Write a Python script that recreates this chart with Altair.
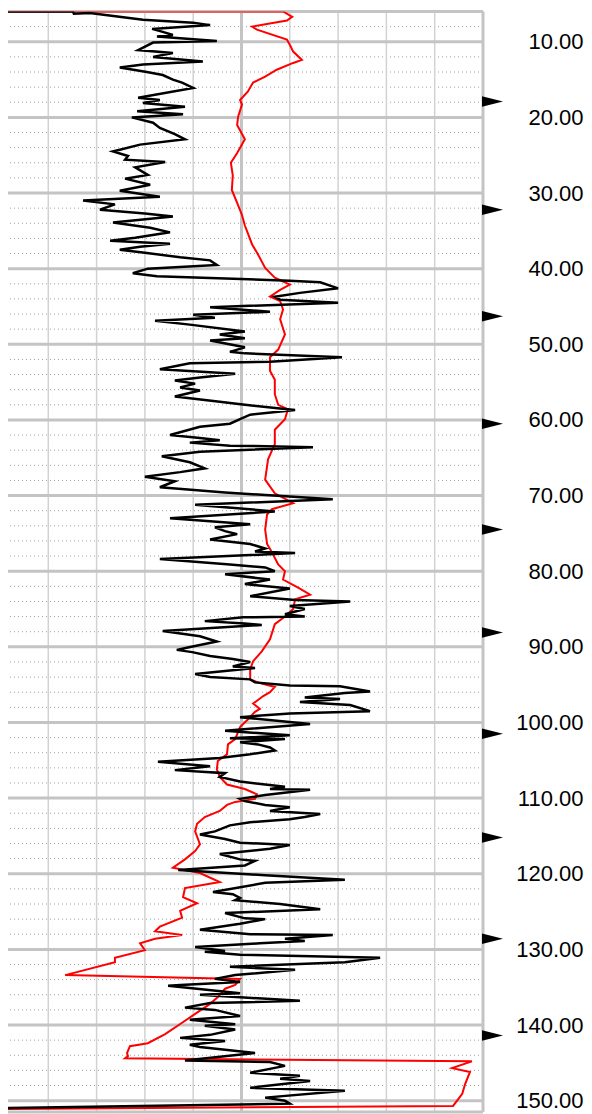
import altair as alt
import pandas as pd

# ---- data ----
black_depth = [6.0, 6.0, 6.3, 6.2, 7.1, 7.5, 7.8, 8.3, 8.7, 9.1,
 9.3, 9.9, 10.1, 11.1, 11.5, 12.0, 12.6, 13.0, 13.4, 14.0,
 14.4, 15.0, 15.4, 16.1, 17.4, 17.7, 18.1, 18.6, 19.2, 19.6,
 20.0, 20.7, 21.4, 22.2, 22.9, 23.6, 24.5, 25.1, 25.6, 25.9,
 26.6, 27.6, 28.1, 28.9, 29.7, 30.5, 31.0, 31.5, 32.2, 32.7,
 33.1, 33.9, 34.6, 35.2, 35.9, 36.3, 36.7, 37.1, 37.5, 37.9,
 38.5, 38.9, 39.5, 40.0, 40.6, 41.0, 41.6, 41.8, 42.6, 43.2,
 43.7, 44.1, 44.5, 45.1, 45.7, 46.1, 46.5, 46.9, 47.4, 48.3,
 48.7, 49.2, 49.5, 50.4, 51.0, 51.2, 51.7, 52.3, 52.5, 53.3,
 53.9, 54.4, 54.8, 55.2, 55.7, 56.1, 56.9, 57.6, 58.0, 58.5,
 58.7, 59.3, 59.9, 60.5, 60.9, 62.0, 62.4, 62.7, 63.0, 63.4,
 63.6, 64.2, 64.8, 65.6, 66.4, 66.9, 67.5, 68.1, 68.9, 69.6,
 70.5, 71.2, 72.1, 73.0, 73.8, 74.2, 74.7, 75.1, 75.8, 76.4,
 77.0, 77.4, 77.6, 78.4, 79.1, 79.5, 80.0, 80.4, 81.1, 81.7,
 82.3, 83.3, 83.8, 84.0, 84.6, 85.0, 85.7, 86.0, 86.1, 86.6,
 86.9, 87.1, 87.9, 88.6, 89.3, 90.1, 90.4, 90.7, 91.2, 91.6,
 92.0, 92.6, 92.8, 93.6, 94.0, 94.3, 94.7, 95.1, 95.2, 95.9,
 96.1, 96.7, 96.9, 97.3, 97.7, 98.5, 98.8, 99.3, 100.2, 101.1,
 101.7, 102.1, 102.2, 102.6, 102.9, 103.3, 103.7, 104.2, 104.7, 105.2,
 105.8, 106.3, 106.7, 107.2, 107.8, 108.2, 108.5, 108.8, 108.9, 109.6,
 110.1, 110.4, 110.9, 111.2, 111.7, 112.1, 112.5, 112.8, 113.2, 113.6,
 114.4, 114.8, 115.4, 115.9, 116.2, 116.7, 117.4, 118.1, 118.3, 118.9,
 119.5, 120.2, 120.8, 121.2, 122.4, 122.7, 123.2, 123.5, 124.0, 124.7,
 125.2, 125.9, 126.0, 126.6, 127.4, 128.0, 128.1, 128.6, 128.9, 129.2,
 129.7, 130.2, 130.3, 130.7, 131.1, 131.7, 132.3, 132.7, 133.4, 133.9,
 134.3, 134.7, 134.8, 135.8, 136.0, 136.8, 137.1, 137.7, 138.0, 138.8,
 139.3, 139.9, 140.1, 140.6, 141.3, 141.7, 142.1, 142.6, 142.9, 143.7,
 144.7, 144.9, 145.4, 146.3, 146.7, 147.1, 147.4, 148.3, 148.7, 149.6,
 150.0, 150.4, 151.0]

black_value = [0, 15.1, 15.3, 18.6, 29.6, 40.0, 43.5, 31.5, 33.7, 35.8,
 32.5, 44.9, 31.7, 28.6, 35.8, 31.7, 42.0, 29.6, 24.8, 30.4,
 33.7, 35.8, 37.7, 40.0, 28.6, 33.1, 29.6, 38.3, 28.4, 37.9,
 27.3, 31.7, 33.1, 36.2, 38.3, 29.0, 23.4, 26.5, 25.9, 34.2,
 28.0, 30.6, 25.9, 31.1, 24.8, 33.1, 17.2, 23.8, 20.7, 30.0,
 35.8, 23.4, 31.1, 35.2, 28.0, 22.8, 35.2, 29.0, 24.8, 30.0,
 37.3, 43.5, 44.9, 30.6, 27.5, 32.5, 60.0, 66.3, 70.0, 62.1,
 56.9, 58.0, 70.0, 43.5, 55.9, 40.0, 44.5, 32.1, 39.3, 50.7,
 45.5, 50.7, 43.5, 50.7, 47.6, 50.7, 70.8, 55.9, 39.3, 33.1,
 48.7, 41.4, 36.2, 40.4, 37.3, 41.4, 36.2, 45.5, 50.7, 58.0,
 61.1, 51.8, 49.7, 47.6, 41.4, 35.2, 41.4, 45.5, 39.3, 47.6,
 64.8, 41.4, 33.5, 39.3, 42.4, 37.3, 30.0, 36.2, 33.1, 46.6,
 68.9, 40.4, 56.9, 35.2, 51.8, 44.5, 46.6, 49.1, 43.5, 51.8,
 54.9, 52.8, 61.1, 33.1, 47.6, 54.9, 56.9, 46.6, 55.9, 50.7,
 60.0, 51.8, 61.1, 72.5, 60.0, 63.1, 59.0, 63.1, 50.3, 42.4,
 50.7, 54.2, 33.7, 41.4, 44.9, 38.9, 36.6, 39.8, 43.5, 48.2,
 51.8, 48.2, 52.8, 40.4, 43.5, 51.8, 52.8, 60.0, 70.4, 76.6,
 71.4, 63.1, 70.4, 62.1, 72.5, 76.6, 60.0, 49.7, 64.2, 46.6,
 60.0, 47.6, 59.0, 49.7, 53.4, 55.9, 56.9, 51.8, 45.5, 32.7,
 43.5, 36.2, 46.6, 45.5, 49.7, 54.9, 59.0, 55.9, 64.2, 54.9,
 49.7, 50.7, 54.9, 60.0, 55.9, 66.3, 63.1, 60.0, 51.8, 47.6,
 44.5, 41.4, 46.6, 49.7, 60.0, 55.9, 45.5, 49.7, 52.8, 50.7,
 36.9, 54.9, 71.4, 54.9, 44.1, 48.2, 49.7, 48.7, 58.0, 66.3,
 46.6, 50.7, 54.9, 49.7, 41.4, 51.8, 68.9, 59.0, 63.1, 53.8,
 40.4, 46.6, 42.4, 49.7, 78.7, 71.4, 47.6, 61.1, 48.7, 44.5,
 49.7, 37.3, 34.8, 49.7, 41.4, 62.1, 43.5, 38.3, 44.5, 49.7,
 39.3, 48.7, 42.4, 48.7, 43.5, 37.3, 46.6, 39.3, 41.4, 52.8,
 38.3, 55.9, 59.0, 51.8, 62.1, 58.0, 64.2, 51.8, 71.4, 54.9,
 59.0, 60.0, 0]

red_depth = [6.0, 6.0, 6.7, 7.2, 8.0, 8.4, 9.7, 10.4, 11.3, 12.4,
 12.8, 13.7, 14.6, 15.4, 16.6, 17.7, 18.3, 19.9, 21.0, 22.9,
 24.7, 26.0, 27.7, 29.6, 31.3, 32.9, 34.3, 36.8, 38.1, 39.9,
 41.2, 42.1, 42.8, 43.7, 44.3, 45.4, 46.7, 48.7, 50.7, 51.7,
 53.5, 54.7, 56.6, 58.0, 58.6, 59.9, 61.3, 63.2, 65.2, 67.9,
 69.7, 71.0, 71.8, 72.5, 74.5, 76.4, 77.5, 79.1, 80.0, 81.1,
 82.3, 83.1, 83.7, 85.0, 86.0, 87.0, 89.0, 90.6, 91.9, 93.0,
 94.3, 94.8, 95.3, 96.0, 96.5, 97.5, 98.2, 98.6, 99.6, 100.6,
 102.2, 102.9, 104.2, 105.1, 106.2, 107.2, 108.2, 108.8, 109.5, 110.1,
 110.5, 110.9, 111.7, 112.5, 113.4, 114.4, 116.1, 117.0, 118.1, 119.2,
 119.9, 121.1, 121.9, 123.1, 123.9, 124.9, 125.8, 127.0, 127.6, 128.1,
 128.6, 129.2, 130.1, 131.1, 131.7, 133.4, 133.9, 134.7, 135.2, 136.3,
 137.2, 138.1, 139.7, 141.2, 142.4, 142.8, 143.7, 144.1, 144.4, 144.8,
 145.7, 146.2, 147.8, 149.1, 150.7, 151.1]

red_value = [0, 58.6, 60.5, 59.4, 52.2, 53.2, 59.4, 60.0, 60.7, 62.5,
 60.7, 57.3, 54.9, 52.4, 51.3, 49.7, 50.1, 49.3, 49.1, 50.7,
 49.1, 47.8, 48.2, 48.0, 49.1, 50.1, 50.7, 52.2, 53.4, 54.9,
 56.9, 60.0, 58.0, 55.9, 58.0, 58.6, 58.0, 59.0, 57.6, 55.9,
 55.9, 56.9, 56.9, 57.6, 59.6, 59.0, 56.9, 56.9, 55.5, 54.9,
 56.9, 60.7, 56.3, 55.3, 54.9, 55.3, 56.3, 57.6, 59.0, 58.6,
 62.1, 64.2, 61.1, 60.7, 59.0, 56.9, 55.9, 54.2, 52.4, 51.8,
 51.8, 53.8, 56.9, 55.9, 54.5, 52.4, 53.8, 52.8, 51.3, 49.7,
 48.7, 47.2, 47.0, 45.1, 44.9, 45.5, 47.0, 50.7, 53.2, 52.8,
 48.7, 47.0, 45.5, 42.4, 40.8, 40.4, 41.4, 40.4, 38.3, 35.8,
 41.4, 45.5, 38.3, 37.9, 40.8, 37.3, 37.7, 33.1, 32.1, 37.7,
 32.1, 29.0, 30.0, 23.8, 23.8, 13.5, 49.7, 48.7, 46.6, 45.1,
 43.5, 41.4, 37.7, 34.2, 30.6, 26.9, 26.3, 26.5, 25.9, 97.7,
 93.6, 97.3, 96.3, 95.7, 93.8, 0]

arrow_depths = [17.9, 32.2, 46.3, 60.5, 74.5, 88.1, 101.5, 115.2, 128.6, 141.4]

label_depths = [10, 20, 30, 40, 50, 60, 70, 80, 90, 100, 110, 120, 130, 140, 150]
minor_depths = [8, 12, 14, 16, 18, 22, 24, 26, 28, 32, 34, 36, 38, 42, 44, 46, 48,
                52, 54, 56, 58, 62, 64, 66, 68, 72, 74, 76, 78, 82, 84, 86, 88,
                92, 94, 96, 98, 102, 104, 106, 108, 112, 114, 116, 118, 122, 124,
                126, 128, 132, 134, 136, 138, 142, 144, 146, 148]
minor_values = [10, 20, 30, 40, 60, 70, 80, 90]
major_values = [50, 100]

DEPTH_TOP, DEPTH_BOTTOM = 6.0, 151.5
VALUE_LEFT, VALUE_RIGHT = 1.66, 100
border_depths = [DEPTH_TOP, DEPTH_BOTTOM]

assert len(black_depth) == len(black_value)
assert len(red_depth) == len(red_value)

black_df = pd.DataFrame({"depth": black_depth, "value": black_value,
                         "idx": range(len(black_depth))})
red_df = pd.DataFrame({"depth": red_depth, "value": red_value,
                       "idx": range(len(red_depth))})
arrow_df = pd.DataFrame({"depth": arrow_depths})
major_h_df = pd.DataFrame({"depth": label_depths})
border_h_df = pd.DataFrame({"depth": border_depths})
minor_h_df = pd.DataFrame({"depth": minor_depths})
minor_v_df = pd.DataFrame({"value": minor_values})
major_v_df = pd.DataFrame({"value": major_values})

x_scale = alt.Scale(domain=[VALUE_LEFT, VALUE_RIGHT], nice=False, zero=False)
y_scale = alt.Scale(domain=[DEPTH_TOP, DEPTH_BOTTOM], reverse=True, nice=False, zero=False)
y_axis = alt.Axis(orient="right", values=label_depths, format=".2f", title=None,
                  grid=False, ticks=False, domain=False, labelAlign="right",
                  labelPadding=100, labelFontSize=22, labelFont="Liberation Sans",
                  labelColor="black")


def Y():
    return alt.Y("depth:Q", scale=y_scale, axis=y_axis)


def X():
    return alt.X("value:Q", scale=x_scale, axis=None)


dotted = alt.Chart(minor_h_df).mark_rule(
    color="#a0a0a0", strokeWidth=1, strokeDash=[1, 3]).encode(y=Y())
v_minor = alt.Chart(minor_v_df).mark_rule(
    color="#d2d2d2", strokeWidth=1.5).encode(x=X())
v_major = alt.Chart(major_v_df).mark_rule(
    color="#c4c4c4", strokeWidth=3).encode(x=X())
h_major = alt.Chart(major_h_df).mark_rule(
    color="#c4c4c4", strokeWidth=3).encode(y=Y())
h_border = alt.Chart(border_h_df).mark_rule(
    color="#c4c4c4", strokeWidth=3).encode(y=Y())

black_line = alt.Chart(black_df).mark_line(
    color="black", strokeWidth=2.5, clip=True).encode(
    x=X(), y=Y(), order="idx:Q")
red_line = alt.Chart(red_df).mark_line(
    color="#ff0000", strokeWidth=2, clip=True).encode(
    x=X(), y=Y(), order="idx:Q")

arrows = alt.Chart(arrow_df).mark_point(
    shape="M-1,-0.5L1,0L-1,0.5Z", size=441, filled=True, color="black",
    opacity=1, strokeWidth=0).encode(x=alt.value(484.5), y=Y())

chart = alt.layer(dotted, v_minor, v_major, h_major, h_border,
                  red_line, black_line, arrows).properties(
    width=475, height=1100.5,
    padding={"left": 0, "top": 3.5, "right": 101, "bottom": 2},
    autosize=alt.AutoSizeParams(type="none"),
    background="white",
).configure_view(stroke=None)

chart.save("out.html", embed_options={"renderer": "svg", "actions": False})
